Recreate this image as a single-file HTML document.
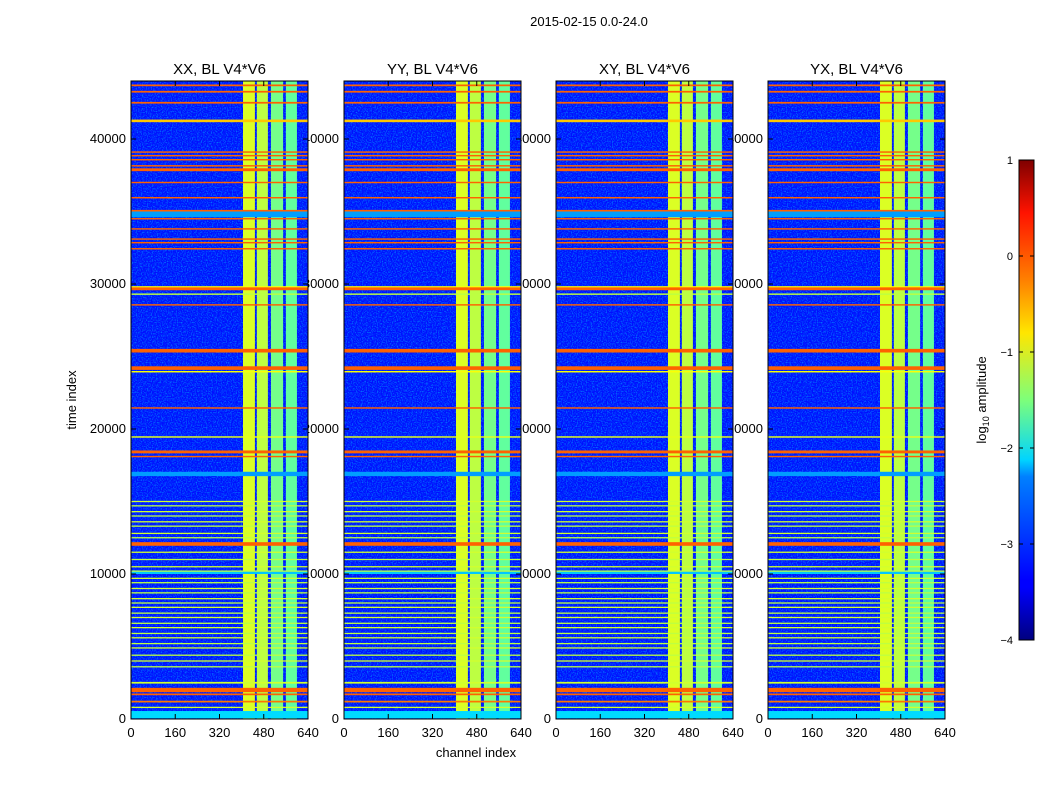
<!DOCTYPE html>
<html><head><meta charset="utf-8"><style>
body{margin:0;background:#fff;}
svg{display:block;font-family:"Liberation Sans","DejaVu Sans",sans-serif;}
</style></head><body>
<svg id="fig" width="1050" height="800" viewBox="0 0 1050 800">
<defs>
<linearGradient id="jet" x1="0" y1="1" x2="0" y2="0">
<stop offset="0" stop-color="#00007f"/><stop offset="0.11" stop-color="#0000ff"/>
<stop offset="0.125" stop-color="#0000ff"/><stop offset="0.34" stop-color="#0080ff"/>
<stop offset="0.36" stop-color="#00b0ff"/><stop offset="0.375" stop-color="#00d4ff"/>
<stop offset="0.5" stop-color="#7dff7a"/><stop offset="0.64" stop-color="#ffe600"/>
<stop offset="0.75" stop-color="#ff8000"/><stop offset="0.89" stop-color="#ff1300"/>
<stop offset="1" stop-color="#7f0000"/>
</linearGradient>
<filter id="noise" x="0" y="0" width="100%" height="100%">
<feTurbulence type="fractalNoise" baseFrequency="0.8" numOctaves="1" seed="3"/>
<feColorMatrix type="matrix" values="0 0 0 0 0  0 0 0 0 0.45  0 0 0 0 1  2.2 0 0 0 -0.95"/>
</filter>
</defs>
<text x="589" y="26" font-size="13" text-anchor="middle">2015-02-15 0.0-24.0</text>
<g id="labels"></g>
<g id="panels"></g>
<g id="cbar"></g>
</svg>
<script>
const panelTitles=["XX, BL V4*V6","YY, BL V4*V6","XY, BL V4*V6","YX, BL V4*V6"];
const yTicks=[0,10000,20000,30000,40000];
const xTicks=[0,160,320,480,640];
const cbarTicks=[1,0,-1,-2,-3,-4];
const bgLevel=-3.3;
const bandStart=[405,455,506,560];
const bandEnd=[448,495,550,600];
const bandLevel=[-1.05,-1.2,-1.55,-1.65];
const rfiTimes=[43700,43260,42500,41250,39100,38850,38570,38150,37880,37000,35950,35050,34800,34500,33800,33100,32850,32430,29800,29670,29300,28560,25400,24200,23950,21450,19450,18420,18100,16900,12070,10100,
15000,14700,14300,14000,13600,13300,12800,12500,11500,11000,10500,10200,9700,9400,9000,8700,8300,8000,7700,7300,7000,6600,6300,5900,5600,5200,4900,4400,4000,3600,2500,2000,1700,1200,800,300];
const rfiWidth=[120,120,120,180,100,100,100,100,200,100,100,120,400,100,100,100,100,100,100,200,100,100,250,250,100,100,100,200,100,300,250,200,
80,80,80,80,80,80,80,80,80,80,80,80,80,80,80,80,80,80,80,80,80,80,80,80,80,80,80,80,80,80,120,300,120,120,80,500];
const rfiLevel=[-0.1,-0.1,-0.1,-0.6,-0.1,-0.1,-0.1,-0.1,-0.1,-0.1,-0.1,-0.1,-2.6,-0.1,-0.1,-0.1,-0.1,-0.1,-0.9,-0.1,-1.2,-0.1,-0.1,-0.1,-0.9,-0.1,-1.0,-0.1,-0.1,-2.6,-0.1,-2.4,
-1.1,-1.2,-1.1,-1.2,-1.1,-1.2,-1.1,-1.2,-1.1,-1.2,-1.1,-1.2,-1.1,-1.2,-1.1,-1.2,-1.1,-1.2,-1.1,-1.2,-1.1,-1.2,-1.1,-1.2,-1.1,-1.2,-1.1,-1.2,-1.1,-1.2,-1.1,-0.1,-0.1,-0.2,-1.1,-2.3];

const NS="http://www.w3.org/2000/svg";
function mk(t,a,p){const e=document.createElementNS(NS,t);for(const k in a)e.setAttribute(k,a[k]);p.appendChild(e);return e;}
function jet(v){const x=Math.max(0,Math.min(1,(v+4)/5));const c=f=>Math.round(255*Math.max(0,Math.min(1,f)));
 return `rgb(${c(1.5-Math.abs(4*x-3))},${c(1.5-Math.abs(4*x-2))},${c(1.5-Math.abs(4*x-1))})`;}
const panelX=[131,344,556,768],PW=177,PT=81,PB=719,TMAX=44000,CMAX=640;
const labels=document.getElementById('labels'),panels=document.getElementById('panels');
panelTitles.forEach((title,i)=>{
 const x0=panelX[i];
 const xs=c=>x0+c/CMAX*PW, ys=t=>PB-t/TMAX*(PB-PT);
 const t=mk('text',{x:x0+PW/2,y:PT-7,'font-size':15,'text-anchor':'middle'},labels);t.textContent=title;
 
 
 yTicks.forEach(v=>{const l=mk('text',{x:x0-5,y:ys(v)+4,'font-size':13,'text-anchor':'end'},labels);l.textContent=v;
  
  });
 xTicks.forEach(v=>{const l=mk('text',{x:xs(v),y:PB+18,'font-size':13,'text-anchor':'middle'},labels);l.textContent=v;
  
  });
 const g=mk('g',{},panels);
 
 
 const bg=mk('rect',{x:x0,y:PT,width:PW,height:PB-PT,fill:jet(bgLevel)},g);
 
 
 const nz=mk('rect',{x:x0,y:PT,width:PW,height:PB-PT,fill:'#fff',filter:'url(#noise)',opacity:0.8},g);
 
 
 bandStart.forEach((s,k)=>{const r=mk('rect',{x:xs(s),y:PT,width:xs(bandEnd[k])-xs(s),height:PB-PT,fill:jet(bandLevel[k])},g);
  
  });
 rfiTimes.forEach((tm,k)=>{const h=Math.max(1.3,rfiWidth[k]/TMAX*(PB-PT));
  const r=mk('rect',{x:x0,y:ys(tm)-h/2,width:PW,height:h,fill:jet(rfiLevel[k])},g);
  
  });
 mk('rect',{x:x0,y:PT,width:PW,height:PB-PT,fill:'none',stroke:'#000','stroke-width':1},g);
 yTicks.forEach(v=>{mk('line',{x1:x0,x2:x0+5,y1:ys(v),y2:ys(v),stroke:'#000'},g);mk('line',{x1:x0+PW-5,x2:x0+PW,y1:ys(v),y2:ys(v),stroke:'#000'},g);});
 xTicks.forEach(v=>{mk('line',{x1:xs(v),x2:xs(v),y1:PB,y2:PB-5,stroke:'#000'},g);mk('line',{x1:xs(v),x2:xs(v),y1:PT,y2:PT+5,stroke:'#000'},g);});
});
let yl=mk('text',{x:0,y:0,'font-size':13,'text-anchor':'middle',transform:'translate(76,400) rotate(-90)'},labels);yl.textContent='time index';


let xl=mk('text',{x:476,y:757,'font-size':13,'text-anchor':'middle'},labels);xl.textContent='channel index';


const cb=document.getElementById('cbar');const CX=1019,CW=15,CT=160,CB=640;
mk('rect',{x:CX,y:CT,width:CW,height:CB-CT,fill:'url(#jet)',stroke:'#000'},cb);
const cy=v=>CB-(v+4)/5*(CB-CT);
cbarTicks.forEach(v=>{mk('line',{x1:CX+CW-4,x2:CX+CW,y1:cy(v),y2:cy(v),stroke:'#000'},cb);mk('line',{x1:CX,x2:CX+4,y1:cy(v),y2:cy(v),stroke:'#000'},cb);
 const l=mk('text',{x:CX-6,y:cy(v)+4,'font-size':11,'text-anchor':'end'},cb);l.textContent=v<0?'\u2212'+(-v):v;
 
 });
const ct=mk('text',{x:0,y:0,'font-size':13,'text-anchor':'middle',transform:'translate(986,400) rotate(-90)'},cb);
ct.innerHTML='log<tspan font-size="9" dy="3">10</tspan><tspan dy="-3"> amplitude</tspan>';


</script>
</body></html>
